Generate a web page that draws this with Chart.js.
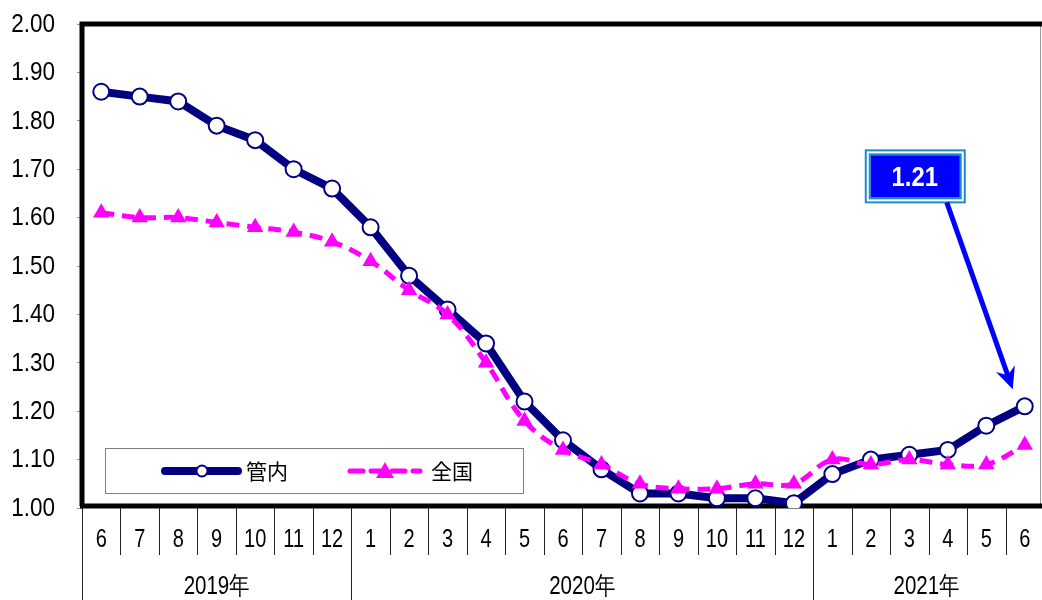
<!DOCTYPE html>
<html>
<head>
<meta charset="utf-8">
<script src="https://cdn.jsdelivr.net/npm/chart.js@4.4.0/dist/chart.umd.min.js"></script>
<style>
    html, body { margin: 0; padding: 0; background: #fff; overflow: hidden; }
    #chart { display: block; }
</style>
</head>
<body>
<canvas id="chart" width="1054" height="600"></canvas>
<script>
    // 有効求人倍率 (管内 / 全国), 2019年6月〜2021年6月
    const months = ['6', '7', '8', '9', '10', '11', '12',
        '1', '2', '3', '4', '5', '6', '7', '8', '9', '10', '11', '12',
        '1', '2', '3', '4', '5', '6'];
    const years = ['2019年', '2020年', '2021年'];
    const kannai = [1.86, 1.85, 1.84, 1.79, 1.76, 1.70, 1.66,
        1.58, 1.48, 1.41, 1.34, 1.22, 1.14, 1.08, 1.03, 1.03, 1.02, 1.02, 1.01,
        1.07, 1.10, 1.11, 1.12, 1.17, 1.21];
    const zenkoku = [1.61, 1.60, 1.60, 1.59, 1.58, 1.57, 1.55,
        1.51, 1.45, 1.40, 1.30, 1.18, 1.12, 1.09, 1.05, 1.04, 1.04, 1.05, 1.05,
        1.10, 1.09, 1.10, 1.09, 1.09, 1.13];
    const yMin = 1.0, yMax = 2.0, yStep = 0.1;
    const seriesNames = ['管内', '全国'];

    const NAVY = '#000080';
    const MAGENTA = '#ff00ff';
    const NUM_FONT = '"Liberation Sans", Arial, sans-serif';
    const JP_FONT = '"Noto Sans CJK JP", "Noto Sans", sans-serif';

    // 横に詰めた文字 (元の図の細い書体に合わせる)
    function narrowText(ctx, text, x, y, sx) {
        ctx.save();
        ctx.translate(x, y);
        ctx.scale(sx, 1);
        ctx.fillText(text, 0, 0);
        ctx.restore();
    }

    // 枠線・目盛り文字・年区切り・凡例・吹き出し
    const decor = {
        id: 'decor',
        beforeDatasetsDraw(chart) {
            const { ctx, chartArea: a } = chart;
            ctx.save();
            ctx.strokeStyle = '#999';
            ctx.lineWidth = 1;
            ctx.beginPath();
            ctx.moveTo(1040.5, a.top);
            ctx.lineTo(1040.5, a.bottom);
            ctx.stroke();

            ctx.strokeStyle = '#000';
            ctx.lineWidth = 5;
            ctx.beginPath();
            ctx.moveTo(a.left, a.bottom - 2);
            ctx.lineTo(a.left, a.top);
            ctx.lineTo(a.right, a.top);
            ctx.stroke();
            ctx.beginPath();
            ctx.moveTo(a.left - 2, a.bottom - 2);
            ctx.lineTo(a.right, a.bottom - 2);
            ctx.stroke();
            ctx.restore();
        },
        afterDraw(chart) {
            const { ctx, chartArea: a, scales: { x, y } } = chart;
            const half = (x.getPixelForValue(1) - x.getPixelForValue(0)) / 2;
            const H = chart.height;
            ctx.save();

            // 縦軸の目盛り文字
            ctx.fillStyle = '#000';
            ctx.font = '25px ' + NUM_FONT;
            ctx.textAlign = 'right';
            ctx.textBaseline = 'middle';
            y.ticks.forEach(t => {
                narrowText(ctx, t.value.toFixed(2), 55, y.getPixelForValue(t.value) + 1, 0.9);
            });

            // 月の区切り線と月ラベル
            ctx.strokeStyle = '#222';
            ctx.lineWidth = 1;
            ctx.textAlign = 'center';
            months.forEach((m, i) => {
                const px = Math.round(x.getPixelForValue(i) - half) + 0.5;
                const yearStart = i === 0 || m === '1';
                ctx.beginPath();
                ctx.moveTo(px, a.bottom);
                ctx.lineTo(px, yearStart ? H : a.bottom + 47);
                ctx.stroke();
                narrowText(ctx, m, x.getPixelForValue(i), 540, 0.8);
            });

            // 年ラベル
            const starts = [];
            months.forEach((m, i) => { if (i === 0 || m === '1') starts.push(i); });
            ctx.font = '25px ' + NUM_FONT;
            starts.forEach((s, k) => {
                const l = x.getPixelForValue(s) - half;
                const r = k + 1 < starts.length ? x.getPixelForValue(starts[k + 1]) - half : 1040;
                narrowText(ctx, years[k], (l + r) / 2, 587, 0.82);
            });

            // 凡例
            const ds = chart.data.datasets;
            const lg = { x: 105, y: 448, w: 418, h: 45 };
            ctx.fillStyle = '#fff';
            ctx.fillRect(lg.x, lg.y, lg.w, lg.h);
            ctx.strokeStyle = '#808080';
            ctx.lineWidth = 1;
            ctx.strokeRect(lg.x + 0.5, lg.y + 0.5, lg.w, lg.h);
            const ly = lg.y + 23;

            const k0 = ds[1];
            ctx.strokeStyle = k0.borderColor;
            ctx.lineWidth = k0.borderWidth;
            ctx.lineCap = 'round';
            ctx.beginPath();
            ctx.moveTo(165, ly);
            ctx.lineTo(238, ly);
            ctx.stroke();
            ctx.fillStyle = '#fff';
            ctx.lineWidth = 2;
            ctx.beginPath();
            ctx.arc(202, ly, 5.5, 0, Math.PI * 2);
            ctx.fill();
            ctx.stroke();

            const z0 = ds[0];
            ctx.strokeStyle = z0.borderColor;
            ctx.lineWidth = z0.borderWidth;
            ctx.setLineDash(z0.borderDash);
            ctx.lineCap = 'round';
            ctx.beginPath();
            ctx.moveTo(350, ly);
            ctx.lineTo(420, ly);
            ctx.stroke();
            ctx.setLineDash([]);
            ctx.fillStyle = MAGENTA;
            ctx.beginPath();
            ctx.moveTo(385, ly - 9);
            ctx.lineTo(394, ly + 7);
            ctx.lineTo(376, ly + 7);
            ctx.closePath();
            ctx.fill();

            ctx.fillStyle = '#000';
            ctx.font = '21px ' + JP_FONT;
            ctx.textAlign = 'left';
            ctx.textBaseline = 'middle';
            ctx.fillText(k0.label, 246, ly);
            ctx.fillText(z0.label, 431, ly);

            // 吹き出し (最新値)
            const meta = chart.getDatasetMeta(1);
            const last = meta.data[meta.data.length - 1];
            const bx = last.x - 159, by = last.y - 256;
            ctx.strokeStyle = '#1e8cc8';
            ctx.lineWidth = 2;
            ctx.strokeRect(bx, by, 99, 52);
            ctx.strokeRect(bx + 4, by + 4, 91, 44);
            ctx.fillStyle = '#0000ff';
            ctx.fillRect(bx + 5, by + 5, 89, 42);
            ctx.fillStyle = '#fff';
            ctx.font = 'bold 28px ' + NUM_FONT;
            ctx.textAlign = 'center';
            narrowText(ctx, kannai[kannai.length - 1].toFixed(2), bx + 49, by + 28, 0.85);

            // 矢印
            const sx = bx + 81, sy = by + 52;
            const tx = last.x - 12, ty = last.y - 17;
            const ang = Math.atan2(ty - sy, tx - sx);
            ctx.strokeStyle = '#0000ff';
            ctx.fillStyle = '#0000ff';
            ctx.lineWidth = 5;
            ctx.lineCap = 'butt';
            ctx.beginPath();
            ctx.moveTo(sx, sy);
            ctx.lineTo(tx - Math.cos(ang) * 12, ty - Math.sin(ang) * 12);
            ctx.stroke();
            ctx.save();
            ctx.translate(tx, ty);
            ctx.rotate(ang);
            ctx.beginPath();
            ctx.moveTo(0, 0);
            ctx.lineTo(-22, -10);
            ctx.lineTo(-15, 0);
            ctx.lineTo(-22, 10);
            ctx.closePath();
            ctx.fill();
            ctx.restore();

            ctx.restore();
        }
    };

    new Chart(document.getElementById('chart'), {
        type: 'line',
        data: {
            labels: months,
            datasets: [{
                label: seriesNames[1],
                data: zenkoku,
                borderColor: MAGENTA,
                backgroundColor: MAGENTA,
                borderWidth: 5,
                borderDash: [13, 8],
                tension: 0.4,
                pointStyle: 'triangle',
                pointRadius: 9.5,
                pointBorderWidth: 0,
                pointBackgroundColor: MAGENTA
            }, {
                label: seriesNames[0],
                data: kannai,
                borderColor: NAVY,
                backgroundColor: NAVY,
                borderWidth: 8,
                tension: 0,
                pointStyle: 'circle',
                pointRadius: 8,
                pointBorderWidth: 2,
                pointBorderColor: NAVY,
                pointBackgroundColor: '#fff'
            }]
        },
        options: {
            responsive: false,
            animation: false,
            layout: { padding: { top: 24, right: 1.5, left: 0, bottom: 0 } },
            plugins: {
                legend: { display: false },
                tooltip: { enabled: false }
            },
            scales: {
                x: {
                    type: 'category',
                    offset: true,
                    grid: { display: false, drawTicks: false },
                    border: { display: false },
                    ticks: { display: false, autoSkip: false },
                    afterFit: s => { s.height = 92; }
                },
                y: {
                    min: yMin,
                    max: yMax,
                    grid: { drawOnChartArea: false, tickLength: 5, color: '#999' },
                    border: { display: false },
                    ticks: { display: false, stepSize: yStep },
                    afterFit: s => { s.width = 82; }
                }
            }
        },
        plugins: [decor]
    });
</script>
</body>
</html>
